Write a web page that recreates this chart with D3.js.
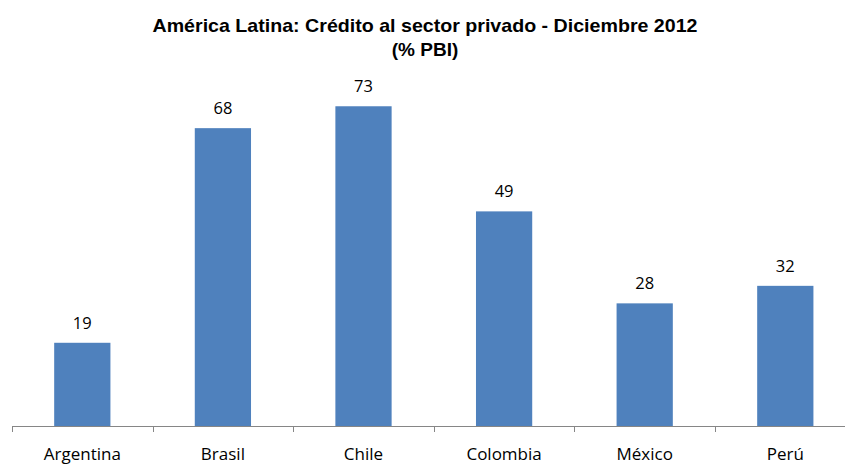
<!DOCTYPE html>
<html>
<head>
<meta charset="utf-8">
<script src="https://cdn.jsdelivr.net/npm/d3@7"></script>
<style>
  body { margin: 0; background: #fff; }
</style>
</head>
<body>
<div id="chart"></div>
<script>
const countries = ['Argentina', 'Brasil', 'Chile', 'Colombia', 'México', 'Perú'];
const values = [19, 68, 73, 49, 28, 32];
const titleLines = ['América Latina: Crédito al  sector privado - Diciembre 2012', '(% PBI)'];

const width = 845, height = 466;
const axisY = 426;

const svg = d3.select('#chart').append('svg')
  .attr('width', width)
  .attr('height', height);

const x = d3.scaleBand()
  .domain(countries)
  .range([12, 12 + 140.6 * countries.length])
  .paddingInner(0.6)
  .paddingOuter(0.3);

const y = d3.scaleLinear()
  .domain([0, 80])
  .range([axisY, 75.6]);

// Title
svg.append('g')
  .selectAll('text')
  .data(titleLines)
  .enter()
  .append('text')
  .attr('x', 425)
  .attr('y', (d, i) => 32 + i * 24)
  .attr('text-anchor', 'middle')
  .attr('textLength', (d, i) => i === 0 ? 545 : null)
  .attr('lengthAdjust', 'spacingAndGlyphs')
  .style('font-family', '"Liberation Sans", sans-serif')
  .style('font-weight', '700')
  .style('font-size', '19px')
  .style('fill', '#000')
  .text(d => d);

// Bars
svg.append('g')
  .selectAll('rect')
  .data(values)
  .enter()
  .append('rect')
  .attr('x', (d, i) => x(countries[i]))
  .attr('y', d => y(d))
  .attr('width', x.bandwidth())
  .attr('height', d => axisY - y(d))
  .attr('fill', '#4F81BD');

// Value labels
svg.append('g')
  .selectAll('text')
  .data(values)
  .enter()
  .append('text')
  .attr('x', (d, i) => x(countries[i]) + x.bandwidth() / 2)
  .attr('y', d => y(d) - 14)
  .attr('text-anchor', 'middle')
  .style('font-family', '"Open Sans", sans-serif')
  .style('font-size', '16.5px')
  .style('fill', '#000')
  .text(d => d);

// X axis
const step = x.step();
const tickXs = d3.range(countries.length + 1).map(i => 12 + i * step);
const axis = svg.append('g').attr('stroke', '#868686').attr('stroke-width', 1);
axis.append('line')
  .attr('x1', 12).attr('x2', width)
  .attr('y1', axisY + 0.5).attr('y2', axisY + 0.5);
axis.selectAll('.tick')
  .data(tickXs)
  .enter()
  .append('line')
  .attr('x1', d => Math.round(d) + 0.5).attr('x2', d => Math.round(d) + 0.5)
  .attr('y1', axisY).attr('y2', axisY + 6);

svg.append('g')
  .selectAll('text')
  .data(countries)
  .enter()
  .append('text')
  .attr('x', d => x(d) + x.bandwidth() / 2)
  .attr('y', 460)
  .attr('text-anchor', 'middle')
  .style('font-family', '"Open Sans", sans-serif')
  .style('font-size', '17px')
  .style('fill', '#000')
  .text(d => d);
</script>
</body>
</html>
